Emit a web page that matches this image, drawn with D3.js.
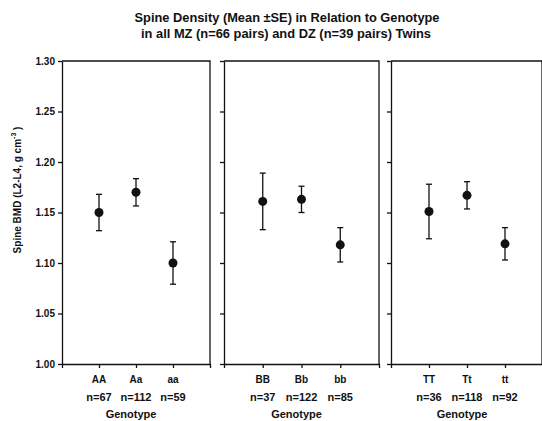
<!doctype html>
<html>
<head>
  <title>Spine Density</title>
  <script src="https://d3js.org/d3.v7.min.js" charset="utf-8"></script>
  <style>
    body { margin: 0; background: #fff; }
    text { font-family: "Liberation Sans", Arial, sans-serif; font-weight: bold; fill: #111; }
    .axis path, .axis line { stroke: #111; stroke-width: 1.3; }
  </style>
</head>
<body>
<svg width="542" height="421"></svg>
<script>
  // genotype groups per panel
  var categories = [["AA", "Aa", "aa"], ["BB", "Bb", "bb"], ["TT", "Tt", "tt"]];
  var sampleSizes = [[67, 112, 59], [37, 122, 85], [36, 118, 92]];
  // mean spine BMD and standard error
  var means = [[1.150, 1.170, 1.100], [1.161, 1.163, 1.118], [1.151, 1.167, 1.119]];
  var errors = [[0.018, 0.0135, 0.021], [0.028, 0.013, 0.017], [0.027, 0.0135, 0.016]];
  var yTicks = [1.00, 1.05, 1.10, 1.15, 1.20, 1.25, 1.30];

  var svg = d3.select("svg"),
      plotTop = 61, plotBottom = 364,
      panelLeft = [62, 224, 391],
      panelRight = [210, 379, 542];

  var y = d3.scaleLinear().domain([1.0, 1.3]).range([plotBottom, plotTop]);

  // title
  svg.append("text").attr("x", 287).attr("y", 22).attr("text-anchor", "middle")
      .attr("textLength", 305).attr("lengthAdjust", "spacingAndGlyphs")
      .style("font-size", "12px").text("Spine Density (Mean \u00b1SE) in Relation to Genotype");
  svg.append("text").attr("x", 286).attr("y", 38).attr("text-anchor", "middle")
      .attr("textLength", 290).attr("lengthAdjust", "spacingAndGlyphs")
      .style("font-size", "12px").text("in all MZ (n=66 pairs) and DZ (n=39 pairs) Twins");

  // y title
  var yt = svg.append("text")
      .attr("transform", "translate(21,190) rotate(-90)")
      .attr("text-anchor", "middle")
      .style("font-size", "10px");
  yt.append("tspan").text("Spine BMD (L2-L4, g cm");
  yt.append("tspan").attr("dy", -5).style("font-size", "7px").text("-3");
  yt.append("tspan").attr("dy", 5).text(" )");

  categories.forEach(function(cats, i) {
    var x = d3.scalePoint().domain(cats).range([panelLeft[i], i === 2 ? 543 : panelRight[i]]).padding(1);
    var g = svg.append("g");

    // frame: top and right
    g.append("path")
        .attr("d", "M" + panelLeft[i] + "," + plotTop + "H" + panelRight[i] + "V" + plotBottom)
        .attr("fill", "none").attr("stroke", "#111").attr("stroke-width", 1.3);

    g.append("g")
        .attr("class", "axis")
        .attr("transform", "translate(" + panelLeft[i] + ",0)")
        .call(d3.axisLeft(y).tickValues(yTicks).tickSize(4).tickSizeOuter(0)
          .tickFormat(i === 0 ? d3.format(".2f") : ""))
        .call(function(a) {
          a.selectAll("text").style("font-size", "10px").style("font-family", null).attr("x", -7);
        });

    g.append("g")
        .attr("class", "axis")
        .attr("transform", "translate(0," + plotBottom + ")")
        .call(d3.axisBottom(x).tickSize(4).tickSizeOuter(4).tickFormat(""));

    cats.forEach(function(c, j) {
      var cx = x(c);
      g.append("text").attr("x", cx).attr("y", 383).attr("text-anchor", "middle")
          .style("font-size", "10px").text(c);
      g.append("text").attr("x", cx).attr("y", 401).attr("text-anchor", "middle")
          .style("font-size", "11px").text("n=" + sampleSizes[i][j]);

      var lo = y(means[i][j] - errors[i][j]), hi = y(means[i][j] + errors[i][j]);
      g.append("line").attr("x1", cx).attr("x2", cx).attr("y1", lo).attr("y2", hi)
          .attr("stroke", "#111").attr("stroke-width", 1.3);
      [lo, hi].forEach(function(v) {
        g.append("line").attr("x1", cx - 3).attr("x2", cx + 3).attr("y1", v).attr("y2", v)
            .attr("stroke", "#111").attr("stroke-width", 1.3);
      });
      g.append("circle").attr("cx", cx).attr("cy", y(means[i][j])).attr("r", 4.5).attr("fill", "#111");
    });

    g.append("text").attr("x", x(cats[1]) - 5).attr("y", 418).attr("text-anchor", "middle")
        .style("font-size", "11px").text("Genotype");
  });
</script>
</body>
</html>
